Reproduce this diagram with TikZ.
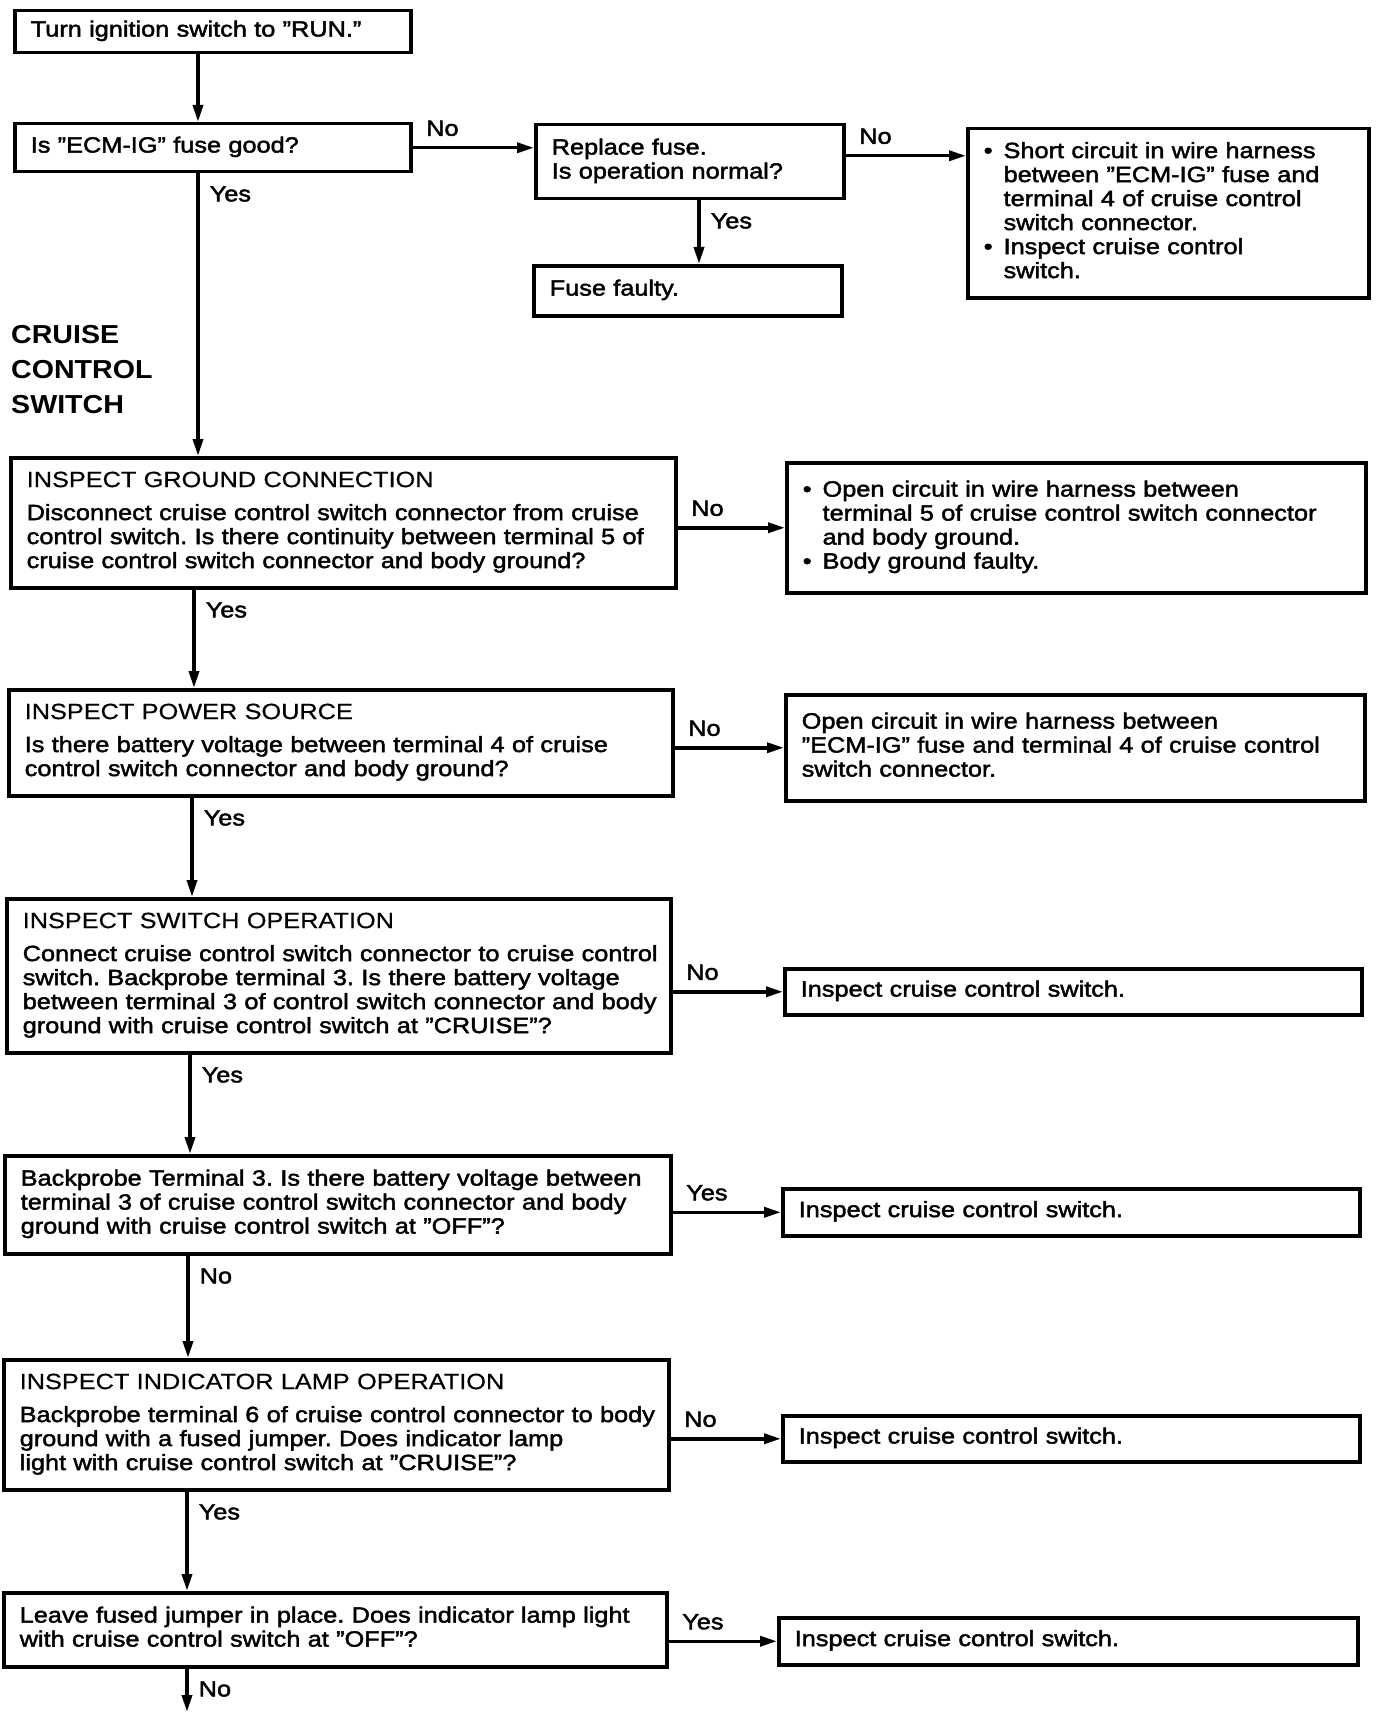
\documentclass[tikz,border=0pt]{standalone}
\usepackage{fontspec}
\setmainfont{Liberation Sans}[FakeStretch=1.15, FakeBold=2]
\newfontfamily\titlefont{Liberation Sans}[FakeStretch=1.15, FakeBold=0.5]
\newfontfamily\headfont{Liberation Sans}[FakeStretch=1.1]
\usetikzlibrary{arrows.meta}

\newcommand{\boxtext}[1]{\begin{tabular}{@{}l@{}}#1\end{tabular}}
\newcommand{\bulletlist}[1]{\begin{tabular}{@{}l@{\hspace{11pt}}l@{}}#1\end{tabular}}
\newcommand{\boxtitle}[1]{{\titlefont #1}\\[9pt]}
\frenchspacing

\tikzset{
  box/.style={draw, line width=3.5pt, anchor=north west, inner xsep=16pt, inner ysep=0pt, align=left},
  arr/.style={line width=3.5pt, -{Triangle[length=17pt, width=10pt]}},
  hlab/.style={anchor=south west, inner xsep=12pt, inner ysep=10pt},
  vlab/.style={anchor=north west, inner xsep=10pt, inner ysep=11pt}
}

\begin{document}
\begin{tikzpicture}[x=1pt, y=-1pt, every node/.style={font=\fontsize{22}{24}\selectfont}]
\useasboundingbox (0,0) rectangle (1392,1712);

% top part
\node[box, minimum height=42pt, text width=364pt] (turn) at (13,9) {\boxtext{Turn ignition switch to ''RUN.''}};
\node[box, minimum height=48pt, text width=364pt] (fuse) at (13,122) {\boxtext{Is ''ECM-IG'' fuse good?}};
\node[box, minimum height=74pt, text width=276pt] (replace) at (534,123) {\boxtext{Replace fuse.\\Is operation normal?}};
\node[box, minimum height=50pt, text width=276pt] (faulty) at (532,264) {\boxtext{Fuse faulty.}};
\node[box, minimum height=169pt, text width=369pt] (short) at (966,127) {\bulletlist{%
  \textbullet & Short circuit in wire harness\\
   & between ''ECM-IG'' fuse and\\
   & terminal 4 of cruise control\\
   & switch connector.\\
  \textbullet & Inspect cruise control\\
   & switch.}};

\node[anchor=north west, align=left, inner sep=0pt, font=\headfont\bfseries\fontsize{26}{35}\selectfont] (cruise) at (11,325) {CRUISE\\CONTROL\\SWITCH};

% checks
\node[box, minimum height=130pt, text width=633pt] (ground) at (9,456) {\boxtext{\boxtitle{INSPECT GROUND CONNECTION}
  Disconnect cruise control switch connector from cruise\\
  control switch. Is there continuity between terminal 5 of\\
  cruise control switch connector and body ground?}};
\node[box, minimum height=130pt, text width=547pt] (groundno) at (785,461) {\bulletlist{%
  \textbullet & Open circuit in wire harness between\\
   & terminal 5 of cruise control switch connector\\
   & and body ground.\\
  \textbullet & Body ground faulty.}};

\node[box, minimum height=106pt, text width=632pt] (power) at (7,688) {\boxtext{\boxtitle{INSPECT POWER SOURCE}
  Is there battery voltage between terminal 4 of cruise\\
  control switch connector and body ground?}};
\node[box, minimum height=106pt, text width=547pt] (powerno) at (784,693) {\boxtext{%
  Open circuit in wire harness between\\
  ''ECM-IG'' fuse and terminal 4 of cruise control\\
  switch connector.}};

\node[box, minimum height=154pt, text width=632pt] (switchop) at (5,897) {\boxtext{\boxtitle{INSPECT SWITCH OPERATION}
  Connect cruise control switch connector to cruise control\\
  switch. Backprobe terminal 3. Is there battery voltage\\
  between terminal 3 of control switch connector and body\\
  ground with cruise control switch at ''CRUISE''?}};
\node[box, minimum height=46pt, text width=545pt] (switchno) at (783,967) {\boxtext{Inspect cruise control switch.}};

\node[box, minimum height=98pt, text width=634pt] (offtest) at (3,1154) {\boxtext{%
  Backprobe Terminal 3. Is there battery voltage between\\
  terminal 3 of cruise control switch connector and body\\
  ground with cruise control switch at ''OFF''?}};
\node[box, minimum height=47pt, text width=545pt] (offyes) at (781,1187) {\boxtext{Inspect cruise control switch.}};

\node[box, minimum height=130pt, text width=633pt] (lamp) at (2,1358) {\boxtext{\boxtitle{INSPECT INDICATOR LAMP OPERATION}
  Backprobe terminal 6 of cruise control connector to body\\
  ground with a fused jumper. Does indicator lamp\\
  light with cruise control switch at ''CRUISE''?}};
\node[box, minimum height=46pt, text width=545pt] (lampno) at (781,1414) {\boxtext{Inspect cruise control switch.}};

\node[box, minimum height=74pt, text width=631pt] (lampoff) at (2,1591) {\boxtext{%
  Leave fused jumper in place. Does indicator lamp light\\
  with cruise control switch at ''OFF''?}};
\node[box, minimum height=47pt, text width=547pt] (lampoffyes) at (777,1616) {\boxtext{Inspect cruise control switch.}};

% down the left side
\coordinate (s1) at ([xshift=185pt]turn.south west);
\coordinate (s2) at ([xshift=185pt]fuse.south west);
\coordinate (s3) at ([xshift=165pt]replace.south west);
\coordinate (s4) at ([xshift=185pt]ground.south west);
\coordinate (s5) at ([xshift=185pt]power.south west);
\coordinate (s6) at ([xshift=185pt]switchop.south west);
\coordinate (s7) at ([xshift=185pt]offtest.south west);
\coordinate (s8) at ([xshift=185pt]lamp.south west);
\coordinate (s9) at ([xshift=185pt]lampoff.south west);
\coordinate (bottom) at (s9 |- 0,1712);

\draw[arr] (s1) -- (s1 |- fuse.north);
\draw[arr] (s2) -- node[vlab, pos=0] {Yes} (s2 |- ground.north);
\draw[arr] (s3) -- node[vlab, pos=0] {Yes} (s3 |- faulty.north);
\draw[arr] (s4) -- node[vlab, pos=0] {Yes} (s4 |- power.north);
\draw[arr] (s5) -- node[vlab, pos=0] {Yes} (s5 |- switchop.north);
\draw[arr] (s6) -- node[vlab, pos=0] {Yes} (s6 |- offtest.north);
\draw[arr] (s7) -- node[vlab, pos=0] {No} (s7 |- lamp.north);
\draw[arr] (s8) -- node[vlab, pos=0] {Yes} (s8 |- lampoff.north);
\draw[arr] (s9) -- node[vlab, pos=0] {No} (bottom);

% out to the right
\draw[arr] (fuse.east) -- node[hlab, pos=0] {No} (fuse.east -| replace.west);
\draw[arr] ([yshift=6pt]replace.east) -- node[hlab, pos=0] {No} ([yshift=6pt]replace.east -| short.west);
\draw[arr] (ground.east |- groundno.west) -- node[hlab, pos=0] {No} (groundno.west);
\draw[arr] (power.east |- powerno.west) -- node[hlab, pos=0] {No} (powerno.west);
\draw[arr] (switchop.east |- switchno.west) -- node[hlab, pos=0] {No} (switchno.west);
\draw[arr] (offtest.east |- offyes.west) -- node[hlab, pos=0] {Yes} (offyes.west);
\draw[arr] (lamp.east |- lampno.west) -- node[hlab, pos=0] {No} (lampno.west);
\draw[arr] (lampoff.east |- lampoffyes.west) -- node[hlab, pos=0] {Yes} (lampoffyes.west);
\end{tikzpicture}
\end{document}
